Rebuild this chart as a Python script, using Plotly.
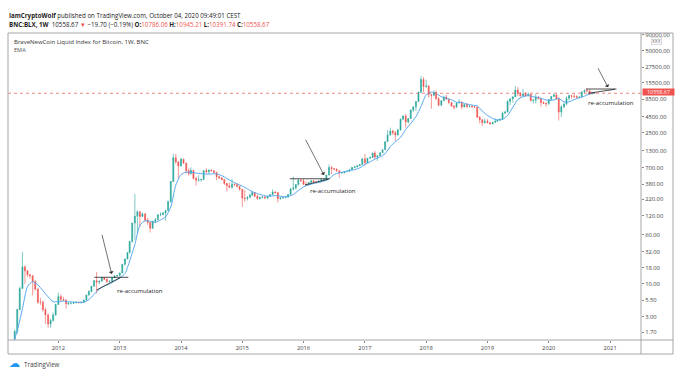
import math
import plotly.graph_objects as go

# ------------------------------------------------------------------ data
def half_months(y0, m0, y1, m1):
    out, y, m = [], y0, m0
    while (y, m) <= (y1, m1):
        out += [f"{y}-{m:02d}-01", f"{y}-{m:02d}-16"]
        m += 1
        if m > 12:
            m, y = 1, y + 1
    return out

def months(y0, m0, y1, m1):
    out, y, m = [], y0, m0
    while (y, m) <= (y1, m1):
        out.append(f"{y}-{m:02d}-01")
        m += 1
        if m > 12:
            m, y = 1, y + 1
    return out

PERIODS = half_months(2011, 4, 2020, 9) + ["2020-09-28"]

OPEN = [
    0.78, 0.86, 1.75, 3.9, 8.4, 18.5, 16.1, 13.9, 13.4, 10.8, 8.2, 5.1, 5.1, 3.9, 3.2, 2.3, 2.6, 3.2,
    4.7, 6.3, 5.6, 5.5, 4.8, 4.9, 4.9, 5.0, 5.1, 5.0, 5.1, 5.5, 6.6, 7.5, 9.1, 11.2, 10.6, 11.0, 12.3, 11.8, 10.8, 11.0, 12.4, 13.3,
    13.5, 14.8, 20.4, 24.8, 31.0, 46.9, 92, 118, 139, 117, 129, 102, 94, 76, 98, 104, 124, 126, 133, 146, 200, 420, 1000, 860,
    740, 950, 820, 620, 560, 630, 470, 440, 445, 450, 625, 600, 640, 620, 585, 500, 480, 450, 390, 360, 340, 380, 375, 350,
    315, 230, 225, 235, 255, 280, 245, 225, 235, 238, 230, 245, 260, 285, 280, 225, 230, 232, 237, 262, 320, 330, 375, 440,
    430, 380, 375, 405, 430, 415, 415, 425, 450, 455, 530, 700, 670, 660, 620, 570, 575, 605, 608, 645, 700, 715, 745, 780,
    960, 830, 980, 1010, 1190, 1030, 1080, 1200, 1340, 1800, 2300, 2650, 2500, 2300, 2750, 4100, 4600, 3700, 4200, 5700, 6450, 7800, 10900, 17500,
    13500, 13800, 10100, 9800, 10900, 8600, 6900, 8000, 9200, 8500, 7500, 6600, 6350, 7400, 7700, 6400, 7000, 6500, 6600, 6450, 6350, 4400, 4000, 3600,
    3800, 3600, 3450, 3650, 3800, 3950, 4100, 5100, 5300, 7800, 8600, 9300, 11900, 10600, 9600, 10300, 9600, 10200, 8100, 8200, 9200, 8600, 7500, 7250,
    7200, 8400, 9350, 9950, 8600, 5300, 6400, 7100, 8800, 9700, 9500, 9400, 9100, 9200, 11100, 11700, 11500, 10300, 10786.06,
]
HIGH = [
    0.95, 1.9, 4.0, 9.0, 31.9, 19.5, 16.5, 14.4, 13.6, 11.5, 8.6, 6.0, 5.4, 4.2, 3.4, 2.8, 3.5, 4.8,
    7.2, 6.8, 6.2, 5.7, 5.1, 5.0, 5.2, 5.2, 5.2, 5.2, 5.6, 6.7, 7.9, 9.3, 11.5, 15.4, 11.2, 12.9, 12.9, 12.1, 11.2, 12.6, 13.6, 13.6,
    15.0, 20.4, 25.0, 32.0, 47.0, 93.0, 266, 145, 140, 135, 130, 111, 95, 100, 110, 126, 136, 137, 146, 210, 430, 1160, 1150, 880,
    1000, 960, 840, 680, 700, 640, 500, 530, 460, 630, 680, 640, 650, 630, 600, 520, 490, 460, 400, 400, 460, 390, 385, 360,
    320, 310, 245, 270, 300, 285, 260, 240, 245, 245, 250, 265, 315, 295, 285, 240, 245, 240, 265, 330, 500, 380, 470, 460,
    460, 420, 410, 440, 440, 420, 430, 465, 460, 540, 780, 740, 690, 675, 625, 590, 615, 615, 650, 720, 750, 750, 790, 980,
    1150, 990, 1050, 1200, 1290, 1080, 1210, 1350, 1800, 2760, 3000, 2780, 2650, 2900, 4200, 4700, 4980, 4200, 5850, 6500, 7900, 11400, 19800, 19000,
    17200, 14000, 10200, 11700, 11600, 9200, 8200, 9700, 9900, 8600, 7750, 6800, 7500, 8500, 7750, 7100, 7400, 6800, 6700, 6600, 6550, 4600, 4100, 4200,
    4100, 3700, 3700, 4200, 4000, 4100, 5400, 5600, 8300, 8800, 9300, 13800, 13200, 11000, 12300, 10900, 10900, 10300, 8600, 10500, 9500, 8700, 7900, 7600,
    8500, 9500, 10500, 10200, 9200, 6900, 7500, 9400, 10000, 9900, 10400, 9800, 9400, 11400, 12100, 12500, 12100, 11200, 10945.21,
]
LOW = [
    0.67, 0.85, 1.6, 3.8, 8.3, 10.0, 12.8, 12.0, 6.5, 7.8, 4.8, 4.6, 3.6, 2.3, 2.0, 2.0, 2.5, 3.1,
    4.6, 5.2, 5.3, 4.0, 4.6, 4.7, 4.8, 4.9, 4.9, 4.9, 5.1, 5.5, 6.5, 7.4, 9.0, 7.0, 9.8, 10.9, 11.5, 10.4, 10.5, 10.9, 12.3, 13.0,
    13.2, 14.6, 19.5, 24.5, 31.0, 45.0, 50, 65, 79, 114, 98, 86, 65, 75, 92, 102, 118, 121, 100, 145, 195, 410, 800, 460,
    730, 800, 560, 520, 540, 450, 360, 420, 420, 445, 560, 560, 610, 570, 440, 460, 440, 370, 290, 330, 320, 350, 340, 300,
    165, 200, 210, 230, 250, 235, 215, 215, 225, 225, 220, 242, 255, 270, 195, 215, 225, 228, 235, 260, 300, 315, 360, 420,
    370, 360, 365, 400, 400, 405, 410, 420, 435, 440, 525, 550, 640, 600, 480, 565, 570, 590, 600, 635, 690, 705, 740, 775,
    750, 820, 960, 1000, 950, 890, 1070, 1190, 1330, 1800, 2250, 2300, 1850, 2250, 2700, 3950, 3000, 3500, 4150, 5300, 5500, 7700, 10800, 11000,
    12900, 9000, 6000, 9400, 8400, 6500, 6500, 7900, 8300, 7100, 6400, 5800, 6300, 7300, 5900, 6300, 6100, 6300, 6200, 6300, 4300, 3500, 3200, 3500,
    3500, 3350, 3380, 3600, 3750, 3900, 4050, 5050, 5300, 6800, 7500, 9200, 9500, 9100, 9400, 9400, 9500, 7800, 7300, 7300, 8500, 6500, 7200, 6450,
    6900, 8200, 9200, 8500, 3900, 4400, 6200, 6800, 8100, 8700, 8900, 8900, 8900, 9100, 10600, 11100, 9900, 10200, 10391.74,
]
CLOSE = [
    0.86, 1.75, 3.9, 8.4, 18.5, 16.1, 13.9, 13.4, 10.8, 8.2, 5.1, 5.1, 3.9, 3.2, 2.3, 2.6, 3.2, 4.7,
    6.3, 5.6, 5.5, 4.8, 4.9, 4.9, 5.0, 5.1, 5.0, 5.1, 5.5, 6.6, 7.5, 9.1, 11.2, 10.6, 11.0, 12.3, 11.8, 10.8, 11.0, 12.4, 13.3, 13.5,
    14.8, 20.4, 24.8, 31.0, 46.9, 92.0, 118, 139, 117, 129, 102, 94, 76, 98, 104, 124, 126, 133, 146, 200, 420, 1000, 860, 740,
    950, 820, 620, 560, 630, 470, 440, 445, 450, 625, 600, 640, 620, 585, 500, 480, 450, 390, 360, 340, 380, 375, 350, 315,
    230, 225, 235, 255, 280, 245, 225, 235, 238, 230, 245, 260, 285, 280, 225, 230, 232, 237, 262, 320, 330, 375, 440, 430,
    380, 375, 405, 430, 415, 415, 425, 450, 455, 530, 700, 670, 660, 620, 570, 575, 605, 608, 645, 700, 715, 745, 780, 960,
    830, 980, 1010, 1190, 1030, 1080, 1200, 1340, 1800, 2300, 2650, 2500, 2300, 2750, 4100, 4600, 3700, 4200, 5700, 6450, 7800, 10900, 17500, 13500,
    13800, 10100, 9800, 10900, 8600, 6900, 8000, 9200, 8500, 7500, 6600, 6350, 7400, 7700, 6400, 7000, 6500, 6600, 6450, 6350, 4400, 4000, 3600, 3800,
    3600, 3450, 3650, 3800, 3950, 4100, 5100, 5300, 7800, 8600, 9300, 11900, 10600, 9600, 10300, 9600, 10200, 8100, 8200, 9200, 8600, 7500, 7250, 7200,
    8400, 9350, 9950, 8600, 5300, 6400, 7100, 8800, 9700, 9500, 9400, 9100, 9200, 11100, 11700, 11500, 10300, 10786.06, 10558.67,
]

EMA_DATES = months(2011, 4, 2020, 10)
EMA = [
    1.0, 1.8, 4.0, 9.0, 10.8, 9.6, 7.8, 6.2, 5.2,
    5.2, 5.3, 5.2, 5.1, 5.05, 5.1, 5.6, 6.8, 8.2, 9.2, 9.9, 11.0,
    12.3, 14.5, 23, 42, 85, 100, 98, 94, 103, 115, 165, 370,
    540, 590, 590, 570, 560, 550, 555, 555, 520, 470, 420, 385,
    355, 320, 290, 270, 255, 245, 248, 250, 240, 243, 262, 300,
    345, 370, 390, 405, 425, 460, 540, 580, 600, 630, 650, 690,
    780, 860, 950, 1030, 1160, 1500, 1800, 2100, 2800, 3500, 4500, 6500,
    10000, 11000, 10500, 9300, 8800, 8300, 7600, 7500, 7100, 6850, 6650, 5500,
    4700, 4200, 4000, 4050, 4700, 6300, 8400, 9300, 9700, 9300, 9000, 8500,
    8100, 8300, 8700, 7700, 7700, 8400, 8900, 9500, 10300, 10500,
]

assert len(OPEN) == len(HIGH) == len(LOW) == len(CLOSE) == len(PERIODS)
assert len(EMA) == len(EMA_DATES)

LAST_PRICE = 10558.67
YEAR_TICKS = [f"{y}-01-01" for y in range(2012, 2022)]
YEAR_LABELS = [str(y) for y in range(2012, 2022)]
PRICE_TICKS = [90000, 50000, 27500, 15500, 8500, 4500, 2500, 1300, 700, 380,
               220, 120, 60, 32, 18, 10, 5.5, 3, 1.7]

# pattern drawings (date, price)
TRI_LINES = [
    ("2012-08-02", 12.65, "2013-02-21", 12.65),
    ("2012-08-16", 7.96, "2013-01-07", 12.65),
    ("2015-10-12", 464, "2016-06-06", 464),
    ("2016-01-09", 369, "2016-05-26", 455),
    ("2020-08-09", 12330, "2021-02-08", 12330),
    ("2020-08-23", 10540, "2021-01-30", 12190),
]
ARROWS = [  # tail -> head
    ("2012-09-15", 63.2, "2012-11-14", 14.3),
    ("2016-01-09", 2036, "2016-05-02", 532),
    ("2020-10-16", 27860, "2020-12-20", 13120),
]
LABELS = [
    ("2013-04-30", 7.74),
    ("2016-06-27", 296),
    ("2021-01-06", 7480),
]

# ------------------------------------------------------------------ style
W, H = 689, 379
L, R, T, B = 8, 641, 33, 340
FONT = "Open Sans, Noto Sans, sans-serif"
UP, DOWN, EMA_COL = "#26a69a", "#ef5350", "#55a8ef"
FRAME = "#a6a6a6"
TXT = "#333333"

def px(x):
    return (x - L) / (R - L)

def py(y):
    return (B - y) / (B - T)

fig = go.Figure()
fig.add_trace(go.Candlestick(
    x=PERIODS, open=OPEN, high=HIGH, low=LOW, close=CLOSE,
    increasing=dict(line=dict(color=UP, width=0.6), fillcolor=UP),
    decreasing=dict(line=dict(color=DOWN, width=0.6), fillcolor=DOWN),
    whiskerwidth=0, hoverinfo="skip", showlegend=False,
))
fig.add_trace(go.Scatter(
    x=EMA_DATES, y=EMA, mode="lines",
    line=dict(color=EMA_COL, width=1, shape="spline", smoothing=0.6),
    hoverinfo="skip", showlegend=False,
))

shapes = []
for x0, y0, x1, y1 in TRI_LINES:
    shapes.append(dict(type="line", xref="x", yref="y", x0=x0, y0=y0, x1=x1, y1=y1,
                       line=dict(color="#222222", width=0.8)))
shapes.append(dict(type="line", xref="paper", yref="y", x0=0, x1=1,
                   y0=LAST_PRICE, y1=LAST_PRICE,
                   line=dict(color=DOWN, width=0.7, dash="dot")))
shapes.append(dict(type="rect", xref="paper", yref="paper",
                   x0=px(8), x1=px(673), y0=py(354), y1=py(33),
                   line=dict(color=FRAME, width=1)))
shapes.append(dict(type="line", xref="paper", yref="paper",
                   x0=px(8), x1=px(673), y0=py(340), y1=py(340),
                   line=dict(color=FRAME, width=1)))
shapes.append(dict(type="line", xref="paper", yref="paper",
                   x0=px(641), x1=px(641), y0=py(354), y1=py(33),
                   line=dict(color=FRAME, width=1)))

ann = []
for tx, ty, hx, hy in ARROWS:
    ann.append(dict(x=hx, y=math.log10(hy), ax=tx, ay=math.log10(ty),
                    xref="x", yref="y", axref="x", ayref="y", text="",
                    showarrow=True, arrowhead=1, arrowsize=1.2, arrowwidth=0.7,
                    arrowcolor="#333333"))
for lx, ly in LABELS:
    ann.append(dict(x=lx, y=math.log10(ly), xref="x", yref="y",
                    text="re-accumulation", showarrow=False,
                    font=dict(family=FONT, size=6, color="#222222")))

ann.append(dict(x=px(7), y=py(16), xref="paper", yref="paper", xanchor="left",
                yanchor="middle", showarrow=False,
                text="<b>IamCryptoWolf</b> published on TradingView.com, October 04, 2020 09:49:01 CEST",
                font=dict(family=FONT, size=6.2, color="#222222")))
red = lambda s: f"<span style='color:{DOWN}'>{s}</span>"
ann.append(dict(x=px(7), y=py(25), xref="paper", yref="paper", xanchor="left",
                yanchor="middle", showarrow=False,
                text=("<b>BNC:BLX, 1W</b>  10558.67 " + red("▼") + " −19.70 (−0.19%) "
                      "<b>O:</b>" + red("10786.06") + " <b>H:</b>" + red("10945.21") +
                      " <b>L:</b>" + red("10391.74") + " <b>C:</b>" + red("10558.67")),
                font=dict(family=FONT, size=6.2, color="#222222")))
ann.append(dict(x=px(12), y=py(42), xref="paper", yref="paper", xanchor="left",
                yanchor="middle", showarrow=False,
                text="BraveNewCoin Liquid Index for Bitcoin, 1W, BNC",
                font=dict(family=FONT, size=6, color=TXT)))
ann.append(dict(x=px(12), y=py(49.5), xref="paper", yref="paper", xanchor="left",
                yanchor="middle", showarrow=False, text="EMA",
                font=dict(family=FONT, size=5.6, color="#555555")))
ann.append(dict(x=px(641.5), y=math.log10(LAST_PRICE), xref="paper", yref="y",
                xanchor="left", yanchor="middle", showarrow=False, yshift=1.2,
                text="10558.67", bgcolor=DOWN, borderpad=0, width=31, height=6,
                font=dict(family=FONT, size=5.4, color="white")))
ann.append(dict(x=px(656), y=py(41), xref="paper", yref="paper",
                xanchor="center", yanchor="middle", showarrow=False,
                text="XXX", bgcolor="white", bordercolor="#c8c8c8", borderwidth=0.6,
                borderpad=0.5, font=dict(family=FONT, size=4.8, color="#666666")))
ann.append(dict(x=px(7), y=py(363.5), xref="paper", yref="paper", xanchor="left",
                yanchor="middle", showarrow=False, text="☁",
                font=dict(family="DejaVu Sans", size=11, color="#2196f3")))
ann.append(dict(x=px(21.5), y=py(364), xref="paper", yref="paper", xanchor="left",
                yanchor="middle", showarrow=False, text="TradingView",
                font=dict(family=FONT, size=6.2, color="#444444")))

fig.update_layout(
    width=W, height=H,
    margin=dict(l=L, r=W - R, t=T, b=H - B, pad=0),
    paper_bgcolor="white", plot_bgcolor="white",
    showlegend=False, shapes=shapes, annotations=ann,
    font=dict(family=FONT, size=6, color="#444444"),
    xaxis=dict(type="date", range=["2011-03-07", "2021-07-04"],
               tickvals=YEAR_TICKS, ticktext=YEAR_LABELS,
               ticks="outside", ticklen=2, tickcolor="#888888",
               tickfont=dict(family=FONT, size=5.8, color="#444444"),
               showgrid=False, zeroline=False, showline=False,
               rangeslider=dict(visible=False), fixedrange=True),
    yaxis=dict(type="log", side="right", range=[0.107, 4.980],
               tickvals=PRICE_TICKS, tickformat=".2f",
               ticks="outside", ticklen=2, tickcolor="#888888",
               tickfont=dict(family=FONT, size=5.8, color="#444444"),
               showgrid=False, zeroline=False, showline=False, fixedrange=True),
)

fig.write_html("out.html", config={"displayModeBar": False, "staticPlot": True},
               post_script="document.body.style.margin='0px';document.body.style.overflow='hidden';")
